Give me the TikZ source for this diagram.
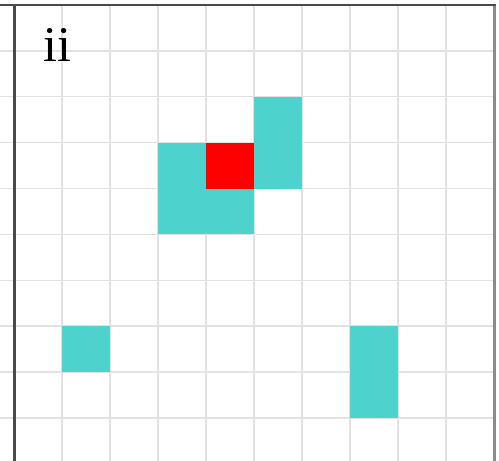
\documentclass[tikz,border=0pt]{standalone}
\usepackage{fontspec}
\setmainfont{Liberation Serif}
\usepackage{xcolor}
\definecolor{gridgray}{HTML}{E2E2E2}
\definecolor{framedark}{HTML}{4A4A4A}
\definecolor{framelight}{HTML}{8C8C8C}
\definecolor{cellcyan}{HTML}{4ED2CD}
\definecolor{cellred}{HTML}{FF0000}
\tikzset{
 gridline/.style={draw=gridgray,line width=1.4pt},
 cyancell/.style={fill=cellcyan},
 redcell/.style={fill=cellred}
}
\begin{document}
\begin{tikzpicture}[x=1pt,y=-1pt]
% Panel is 480 x 456 px: 10 columns of 48, rows of 45.875.
% Column c starts at 14+48c, row r starts at 5+45.875r.
\useasboundingbox (0,0) rectangle (499,461);
\fill[white] (0,0) rectangle (499,461);

% ── Grid ────────────────────────────────────────────────────────
\foreach \c in {1,...,9}
 \draw[gridline] ({14+48*\c},5) -- ({14+48*\c},461);
\foreach \r in {1,...,9}
 \draw[gridline] (0,{5+45.875*\r}) -- (494,{5+45.875*\r});

% ── Cells ───────────────────────────────────────────────────────
\fill[cyancell] (158,142.625) rectangle (206,234.375);
\fill[cyancell] (206,188.5) rectangle (254,234.375);
\fill[cyancell] (254,96.75) rectangle (302,188.5);
\fill[redcell] (206,142.625) rectangle (254,188.5);
\fill[cyancell] (62,326.125) rectangle (110,372);
\fill[cyancell] (350,326.125) rectangle (398,417.875);

% ── Frame ───────────────────────────────────────────────────────
\draw[framelight,line width=3pt] (494,5) -- (494,461);
\draw[framedark,line width=3pt] (14,5) -- (14,461);
\draw[framedark,line width=2.4pt] (0,5) -- (495.5,5);

% Panel label
\node[font=\fontsize{50}{50}\selectfont,anchor=base west,inner sep=0pt]
 (panellabel) at (43,61) {ii};
\end{tikzpicture}
\end{document}
